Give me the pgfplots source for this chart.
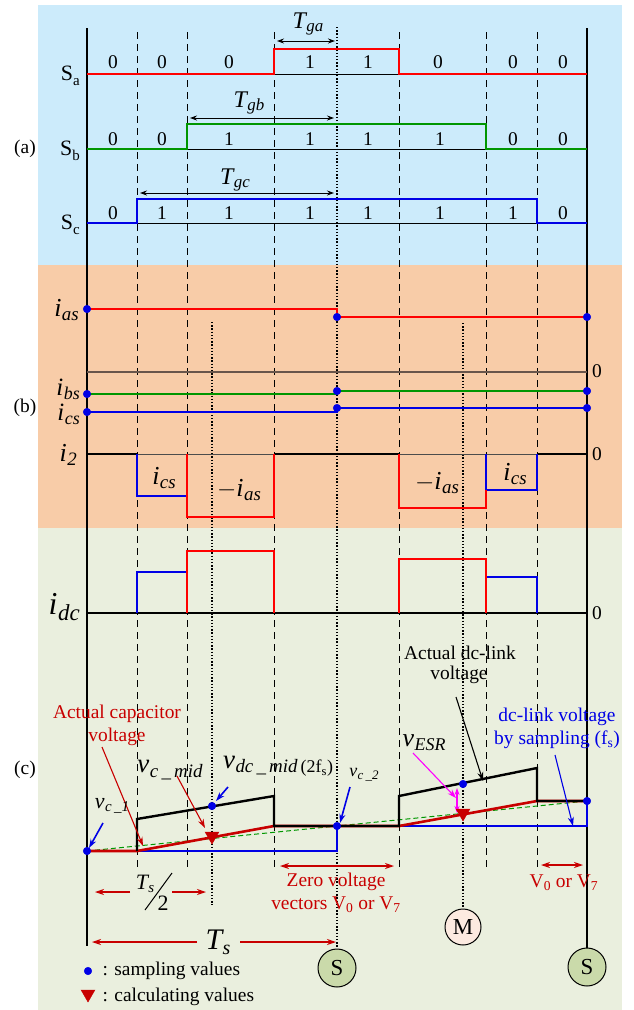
\documentclass[border=0pt]{standalone}
\usepackage{fontspec}
\setmainfont{Liberation Serif}
\usepackage{pgfplots}
\pgfplotsset{compat=1.18}
\usetikzlibrary{arrows.meta}
\definecolor{bga}{RGB}{204,235,251}
\definecolor{bgb}{RGB}{248,204,168}
\definecolor{bgc}{RGB}{234,239,222}
\definecolor{cred}{RGB}{255,0,0}
\definecolor{cgreen}{RGB}{0,150,0}
\definecolor{cblue}{RGB}{0,0,230}
\definecolor{dred}{RGB}{200,0,0}
\definecolor{mag}{RGB}{255,0,255}
\definecolor{sfill}{RGB}{202,218,170}
\definecolor{mfill}{RGB}{252,234,224}
\definecolor{zline}{RGB}{105,85,75}
\newcommand{\fs}[1]{\fontsize{#1}{#1}\selectfont}
\newcommand{\sym}[4]{{\fs{#1}\itshape #3\kern0.02em\raisebox{-0.35ex}{\fs{#2}#4}}}
\tikzset{
  sig/.style={line width=2.6bp},
  thinl/.style={line width=0.9bp},
  dsh/.style={line width=1bp, black, dash pattern=on 7bp off 5bp},
  dot/.style={line width=1.3bp, black, dash pattern=on 1.4bp off 1.8bp},
  ar/.style={-{Stealth[length=9bp,width=6bp]}},
  dar/.style={{Stealth[length=9bp,width=6bp]}-{Stealth[length=9bp,width=6bp]}},
  sar/.style={{Stealth[length=7bp,width=5bp]}-{Stealth[length=7bp,width=5bp]}},
  t/.style={font=\fs{19.5}},
}
\begin{document}
\begin{tikzpicture}
\begin{axis}[
  width=633bp, height=1010bp, scale only axis,
  xmin=0, xmax=633, ymin=0, ymax=1010, y dir=reverse,
  hide axis, clip=false,
]
\path (axis cs:0,0) rectangle (axis cs:633,1010);
% backgrounds
\addplot[fill=bga, draw=none] coordinates {(38,5)(622,5)(622,265)(38,265)} -- cycle;
\addplot[fill=bgb, draw=none] coordinates {(38,265)(622,265)(622,528)(38,528)} -- cycle;
\addplot[fill=bgc, draw=none] coordinates {(38,528)(622,528)(622,1010)(38,1010)} -- cycle;
% vertical guide lines
\addplot[dsh] coordinates {(137,32)(137,867)};
\addplot[dsh] coordinates {(187,32)(187,867)};
\addplot[dsh] coordinates {(274,32)(274,867)};
\addplot[dsh] coordinates {(399,32)(399,867)};
\addplot[dsh] coordinates {(486,32)(486,867)};
\addplot[dsh] coordinates {(537,32)(537,867)};
\addplot[dot] coordinates {(337,27)(337,948)};
\addplot[dot] coordinates {(212,322)(212,905)};
\addplot[dot] coordinates {(463,323)(463,908)};
\addplot[black, line width=1.5bp] coordinates {(87,28)(87,946)};
\addplot[black, line width=1.5bp] coordinates {(587,28)(587,948)};
% (a) thin baselines
\addplot[thinl, black] coordinates {(274,74)(399,74)};
\addplot[thinl, black] coordinates {(187,149)(486,149)};
\addplot[thinl, black] coordinates {(137,223)(537,223)};
% (a) switching signals
\addplot[sig, cred] coordinates {(87,74)(274,74)(274,49)(399,49)(399,74)(587,74)};
\addplot[sig, cgreen] coordinates {(87,149)(187,149)(187,124)(486,124)(486,149)(587,149)};
\addplot[sig, cblue] coordinates {(87,223)(137,223)(137,199)(537,199)(537,223)(587,223)};
% (a) time arrows
\addplot[thinl, black, sar] coordinates {(277,41)(335,41)};
\addplot[thinl, black, sar] coordinates {(190,118)(334,118)};
\addplot[thinl, black, sar] coordinates {(140,193)(334,193)};
% (b)
\addplot[line width=1.1bp, zline] coordinates {(87,372)(587,372)};
\addplot[thinl, black!70] coordinates {(87,454)(587,454)};
\addplot[sig, cred] coordinates {(87,309)(337,309)(337,317)(587,317)};
\addplot[sig, cgreen] coordinates {(87,394)(337,394)(337,391)(587,391)};
\addplot[sig, cblue] coordinates {(87,412)(337,412)(337,408)(587,408)};
\addplot[sig, black] coordinates {(87,454)(137,454)};
\addplot[sig, black] coordinates {(274,454)(399,454)};
\addplot[sig, black] coordinates {(537,454)(587,454)};
\addplot[sig, cblue] coordinates {(137,454)(137,496)(187,496)};
\addplot[sig, cred] coordinates {(187,454)(187,517)(274,517)(274,454)};
\addplot[sig, cblue] coordinates {(486,454)(486,490)(537,490)(537,454)};
\addplot[sig, cred] coordinates {(399,454)(399,508)(486,508)(486,490)};
% (c) dc current
\addplot[sig, black] coordinates {(87,613)(587,613)};
\addplot[sig, cblue] coordinates {(137,613)(137,572)(187,572)};
\addplot[sig, cred] coordinates {(187,613)(187,551)(274,551)(274,613)};
\addplot[sig, cblue] coordinates {(486,577)(537,577)(537,613)};
\addplot[sig, cred] coordinates {(399,613)(399,559)(486,559)(486,613)};
% (c) voltages
\addplot[line width=1.8bp, cblue] coordinates {(87,851)(337,851)(337,826)(587,826)(587,801)};
\addplot[line width=1bp, cgreen, dash pattern=on 5bp off 3bp] coordinates {(87,851)(587,801)};
\addplot[sig, dred] coordinates {(87,851)(137,851)(274,826)(399,826)(537,801)(587,801)};
\addplot[line width=2.4bp, black] coordinates {(137,851)(137,819)(274,796)(274,826)(399,826)(399,796)(537,768)(537,801)(587,801)};
% annotation arrows
\addplot[line width=1.1bp, dred, ar] coordinates {(102,747)(143,846)};
\addplot[line width=1.1bp, dred, ar] coordinates {(177,776)(205,828)};
\addplot[line width=1.6bp, cblue, ar] coordinates {(228,787)(216,801)};
\addplot[line width=1.6bp, cblue, ar] coordinates {(103,823)(89,848)};
\addplot[line width=1.6bp, cblue, ar] coordinates {(350,787)(340,823)};
\addplot[line width=1.1bp, mag, ar] coordinates {(413,753)(456,798)};
\addplot[line width=1.3bp, mag, sar] coordinates {(457,788)(457,813)};
\addplot[line width=1.1bp, black, ar] coordinates {(456,697)(483,781)};
\addplot[line width=1.1bp, cblue, ar] coordinates {(555,755)(573,826)};
% bottom arrows
\addplot[line width=1.1bp, dred, ar] coordinates {(130,892)(95,892)};
\addplot[line width=1.1bp, dred, ar] coordinates {(172,892)(206,892)};
\addplot[line width=1.1bp, dred, ar] coordinates {(197,942)(92,942)};
\addplot[line width=1.1bp, dred, ar] coordinates {(240,942)(336,942)};
\addplot[line width=1.5bp, dred, dar] coordinates {(280,866)(394,866)};
\addplot[line width=1.5bp, dred, dar] coordinates {(541,865)(583,865)};
\addplot[line width=1bp, black] coordinates {(145,910)(172,873)};
% sampling dots
\addplot[only marks, mark=*, mark size=3.8bp, cblue] coordinates {
 (87,309)(87,394)(87,412)(337,317)(337,391)(337,408)(587,317)(587,391)(587,408)
 (87,851)(212,806)(337,826)(463,784)(587,801)(88,971)};
% calculated values
\addplot[only marks, mark=triangle*, mark size=8bp, dred, mark options={rotate=180}] coordinates {(212,836)(463,813)(88,994)};
% circles with labels
\addplot[only marks, mark=*, mark size=19bp, mark options={fill=sfill, draw=black, line width=1bp},
  nodes near coords={S}, every node near coord/.style={anchor=center, text=black, font=\fs{23}}] coordinates {(337,968)(587,967)};
\addplot[only marks, mark=*, mark size=18bp, mark options={fill=mfill, draw=black, line width=1bp},
  nodes near coords={M}, every node near coord/.style={anchor=center, text=black, font=\fs{23}}] coordinates {(463,927)};
% ---------- text ----------
\node[t] at (axis cs:25,149) {(a)};
\node[t] at (axis cs:25,408) {(b)};
\node[t] at (axis cs:25,770) {(c)};
\node[anchor=east, inner sep=1bp] at (axis cs:81,76) {\fs{22}S\raisebox{-0.45ex}{\fs{15}a}};
\node[anchor=east, inner sep=1bp] at (axis cs:81,151) {\fs{22}S\raisebox{-0.45ex}{\fs{15}b}};
\node[anchor=east, inner sep=1bp] at (axis cs:81,225) {\fs{22}S\raisebox{-0.45ex}{\fs{15}c}};
% digits row a
\node[t] at (axis cs:113,62) {0};
\node[t] at (axis cs:162,62) {0};
\node[t] at (axis cs:229,62) {0};
\node[t] at (axis cs:310,62) {1};
\node[t] at (axis cs:368,62) {1};
\node[t] at (axis cs:438,62) {0};
\node[t] at (axis cs:513,62) {0};
\node[t] at (axis cs:563,62) {0};
% row b
\node[t] at (axis cs:113,139) {0};
\node[t] at (axis cs:162,139) {0};
\node[t] at (axis cs:229,139) {1};
\node[t] at (axis cs:310,139) {1};
\node[t] at (axis cs:368,139) {1};
\node[t] at (axis cs:440,139) {1};
\node[t] at (axis cs:513,139) {0};
\node[t] at (axis cs:563,139) {0};
% row c
\node[t] at (axis cs:113,213) {0};
\node[t] at (axis cs:162,213) {1};
\node[t] at (axis cs:229,213) {1};
\node[t] at (axis cs:310,213) {1};
\node[t] at (axis cs:368,213) {1};
\node[t] at (axis cs:440,213) {1};
\node[t] at (axis cs:513,213) {1};
\node[t] at (axis cs:563,213) {0};
\node at (axis cs:308,24) {\sym{24}{17}{T}{ga}};
\node at (axis cs:249,103) {\sym{24}{17}{T}{gb}};
\node at (axis cs:235,180) {\sym{24}{17}{T}{gc}};
% (b) labels
\node[anchor=east, inner sep=1bp] at (axis cs:80,310) {\sym{26}{19}{i}{as}};
\node[anchor=east, inner sep=0bp] at (axis cs:80,389) {\sym{25}{18}{i}{bs}};
\node[anchor=east, inner sep=0bp] at (axis cs:80,414) {\sym{25}{18}{i}{cs}};
\node[anchor=east, inner sep=1bp] at (axis cs:78,455) {\sym{26}{19}{i}{2}};
\node[t] at (axis cs:597,371) {0};
\node[t] at (axis cs:597,454) {0};
\node at (axis cs:164,478) {\sym{26}{19}{i}{cs}};
\node at (axis cs:239,490) {{\fs{24}$-$}\sym{26}{19}{i}{as}};
\node at (axis cs:437,483) {{\fs{24}$-$}\sym{26}{19}{i}{as}};
\node at (axis cs:515,474) {\sym{26}{19}{i}{cs}};
% (c) labels
\node[anchor=east, inner sep=1bp] at (axis cs:81,607) {\sym{32}{23}{i}{dc}};
\node[t] at (axis cs:597,613) {0};
\node[t, text=dred] at (axis cs:117,714) {Actual capacitor};
\node[t, text=dred] at (axis cs:117,737) {voltage};
\node[t] at (axis cs:460,653) {Actual dc-link};
\node[t] at (axis cs:459,675) {voltage};
\node[t, text=cblue] at (axis cs:557,717) {dc-link voltage};
\node[t, text=cblue] at (axis cs:557,740) {by sampling (f\textsubscript{s})};
\node at (axis cs:170,770) {\sym{27}{19}{v}{c\,\_\,mid}};
\node at (axis cs:278,766) {\sym{27}{19}{v}{dc\,\_\,mid\,{\upshape\fs{18}(2f\textsubscript{s})}}};
\node at (axis cs:112,806) {\sym{22}{15}{v}{c\,\_1}};
\node at (axis cs:364,775) {\sym{18}{13}{v}{c\,\_2}};
\node at (axis cs:424,743) {\sym{26}{18}{v}{ESR}};
\node at (axis cs:145,884) {\sym{22}{15}{T}{s}};
\node at (axis cs:163,903) {\fs{22}2};
\node at (axis cs:218,942) {\sym{30}{20}{T}{s}};
\node[t, text=dred] at (axis cs:336,882) {Zero voltage};
\node[t, text=dred] at (axis cs:336,905) {vectors V\textsubscript{0} or V\textsubscript{7}};
\node[t, text=dred] at (axis cs:564,883) {V\textsubscript{0} or V\textsubscript{7}};
\node[t, anchor=west] at (axis cs:99,971) {: sampling values};
\node[t, anchor=west] at (axis cs:99,997) {: calculating values};
\end{axis}
\end{tikzpicture}
\end{document}
